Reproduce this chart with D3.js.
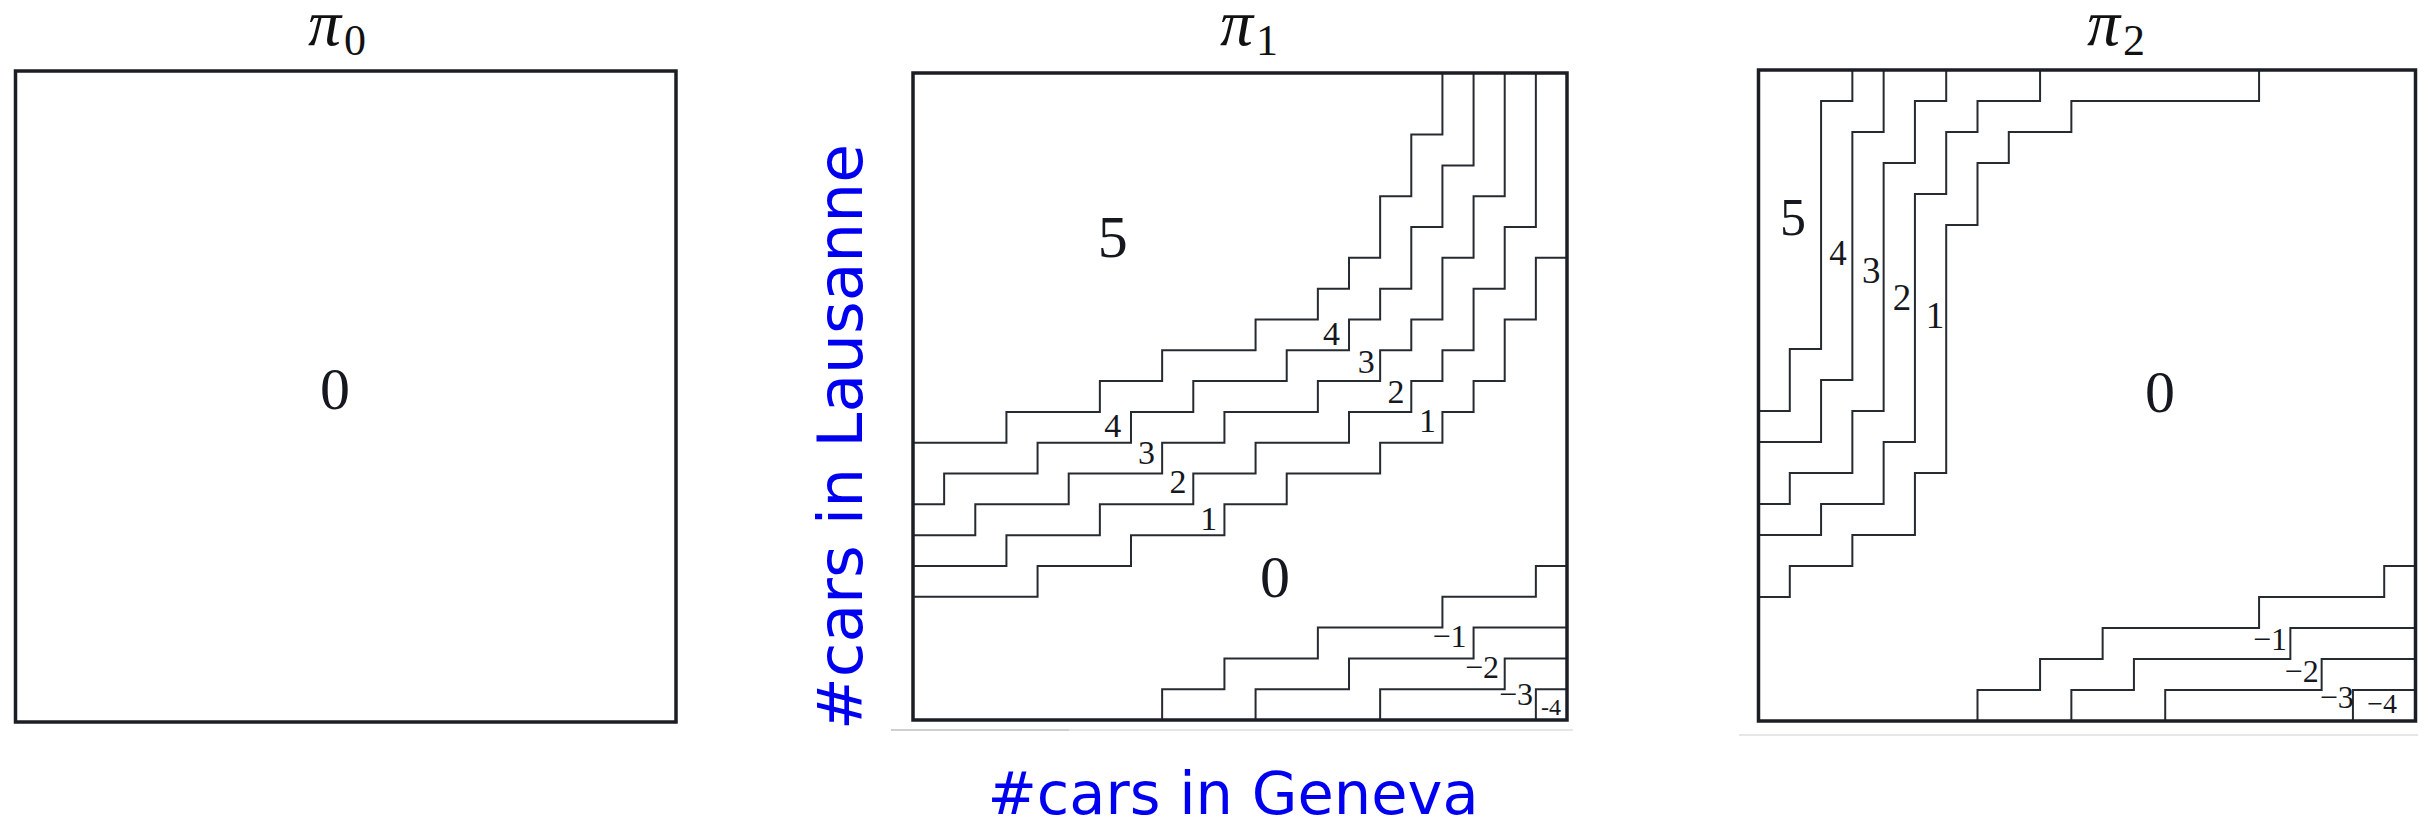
<!DOCTYPE html>
<html>
<head>
<meta charset="utf-8">
<script src="https://cdn.jsdelivr.net/npm/d3@7"></script>
<style>
  html, body { margin: 0; padding: 0; background: #ffffff; }
  svg { display: block; }
</style>
</head>
<body>
<svg id="chart" width="2430" height="820"></svg>
<script>
// Policies for moving cars overnight between two rental sites (0–20 cars each).
// Each threshold row gives, for every Geneva count (column 0..20), the lowest
// Lausanne count at which the policy moves at least k cars (21 = never).
// Negative rows give, per Geneva count, how many Lausanne rows (from 0 upward)
// move at least k cars the other way.
const genevaCounts = d3.range(21);
const maxCars = 20;
const titles = ["0", "1", "2"];

// π1
const pi1AtLeast = [
  [4, 4, 4, 4, 5, 5, 5, 6, 6, 6, 7, 7, 8, 8, 8, 9, 9, 10, 11, 13, 15],    // ≥ 1
  [5, 5, 5, 6, 6, 6, 7, 7, 7, 8, 8, 9, 9, 9, 10, 10, 11, 12, 14, 16, 21], // ≥ 2
  [6, 6, 7, 7, 7, 8, 8, 8, 9, 9, 10, 10, 10, 11, 11, 12, 13, 15, 17, 21, 21], // ≥ 3
  [7, 8, 8, 8, 9, 9, 9, 10, 10, 11, 11, 11, 12, 12, 13, 14, 16, 18, 21, 21, 21], // ≥ 4
  [9, 9, 9, 10, 10, 10, 11, 11, 12, 12, 12, 13, 13, 14, 15, 17, 19, 21, 21, 21, 21] // = 5
];
const pi1AtMost = [
  [0, 0, 0, 0, 0, 0, 0, 0, 1, 1, 2, 2, 2, 3, 3, 3, 3, 4, 4, 4, 5], // ≤ −1
  [0, 0, 0, 0, 0, 0, 0, 0, 0, 0, 0, 1, 1, 1, 2, 2, 2, 2, 3, 3, 3], // ≤ −2
  [0, 0, 0, 0, 0, 0, 0, 0, 0, 0, 0, 0, 0, 0, 0, 1, 1, 1, 1, 2, 2], // ≤ −3
  [0, 0, 0, 0, 0, 0, 0, 0, 0, 0, 0, 0, 0, 0, 0, 0, 0, 0, 0, 0, 1]  // ≤ −4
];

// π2
const pi2AtLeast = [
  [4, 5, 5, 6, 6, 8, 16, 18, 19, 19, 20, 20, 20, 20, 20, 20, 21, 21, 21, 21, 21],
  [6, 6, 7, 7, 9, 17, 19, 20, 20, 21, 21, 21, 21, 21, 21, 21, 21, 21, 21, 21, 21],
  [7, 8, 8, 10, 18, 20, 21, 21, 21, 21, 21, 21, 21, 21, 21, 21, 21, 21, 21, 21, 21],
  [9, 9, 11, 19, 21, 21, 21, 21, 21, 21, 21, 21, 21, 21, 21, 21, 21, 21, 21, 21, 21],
  [10, 12, 20, 21, 21, 21, 21, 21, 21, 21, 21, 21, 21, 21, 21, 21, 21, 21, 21, 21, 21]
];
const pi2AtMost = [
  [0, 0, 0, 0, 0, 0, 0, 1, 1, 2, 2, 3, 3, 3, 3, 3, 4, 4, 4, 4, 5],
  [0, 0, 0, 0, 0, 0, 0, 0, 0, 0, 1, 1, 2, 2, 2, 2, 2, 3, 3, 3, 3],
  [0, 0, 0, 0, 0, 0, 0, 0, 0, 0, 0, 0, 0, 1, 1, 1, 1, 1, 2, 2, 2],
  [0, 0, 0, 0, 0, 0, 0, 0, 0, 0, 0, 0, 0, 0, 0, 0, 0, 0, 0, 1, 1]
];

// Action labels written inside each policy map
const pi0Labels = ["0"];
const pi1Labels = ["5", "0", "4", "3", "2", "1", "4", "3", "2", "1", "−1", "−2", "−3", "-4"];
const pi2Labels = ["5", "4", "3", "2", "1", "0", "−1", "−2", "−3", "−4"];

// ---- layout ----
const svg = d3.select("#chart");
const inkFrame = "#1b1e25";
const inkLine = "#262a31";
const serif = "'Liberation Serif', 'Times New Roman', serif";

const panels = [
  { x0: 15.5, x1: 676, y0: 71, y1: 722, titleX: 308, up: [], down: [],
    labels: pi0Labels,
    place: [[10.16, 10.1, 60]] },
  { x0: 913, x1: 1567, y0: 73, y1: 720, titleX: 1220, up: pi1AtLeast, down: pi1AtMost,
    labels: pi1Labels,
    place: [[6.41, 15.04, 60], [11.62, 3.99, 60],
            [6.41, 9.19, 34], [7.50, 8.31, 34], [8.51, 7.37, 34], [9.50, 6.17, 34],
            [13.44, 12.17, 34], [14.55, 11.26, 34], [15.51, 10.28, 34], [16.52, 9.36, 34],
            [17.23, 2.38, 32], [18.27, 1.36, 32], [19.36, 0.49, 32], [20.49, 0.16, 24]] },
  { x0: 1758.5, x1: 2415.5, y0: 70, y1: 721, titleX: 2087, up: pi2AtLeast, down: pi2AtMost,
    labels: pi2Labels,
    place: [[1.10, 15.68, 52], [2.54, 14.71, 35], [3.60, 14.13, 37], [4.59, 13.26, 37],
            [5.64, 12.68, 37], [12.83, 9.97, 60],
            [16.35, 2.29, 32], [17.36, 1.27, 32], [18.48, 0.42, 32], [19.93, 0.25, 28]] }
];

// Staircase boundary of the region "action ≥ k" (upper-left side)
function upperBoundary(row) {
  const pts = [[0, row[0]]];
  for (const g of genevaCounts) {
    if (row[g] > maxCars) { pts.push([g, maxCars + 1]); break; }
    pts.push([g, row[g]], [g + 1, row[g]]);
  }
  return pts;
}
// Staircase boundary of the region "action ≤ −k" (lower-right side)
function lowerBoundary(row) {
  const start = genevaCounts.find(g => row[g] > 0);
  const pts = [[start, 0]];
  for (const g of genevaCounts.filter(g => g >= start)) {
    pts.push([g, row[g]], [g + 1, row[g]]);
  }
  return pts;
}

panels.forEach((p, i) => {
  const x = d3.scaleLinear().domain([0, maxCars + 1]).range([p.x0, p.x1]);
  const y = d3.scaleLinear().domain([0, maxCars + 1]).range([p.y1, p.y0]);
  const line = d3.line().x(d => x(d[0])).y(d => y(d[1]));
  const g = svg.append("g");

  g.selectAll("path.up").data(p.up).join("path")
    .attr("class", "up")
    .attr("d", r => line(upperBoundary(r)))
    .attr("fill", "none").attr("stroke", inkLine).attr("stroke-width", 2);

  g.selectAll("path.down").data(p.down).join("path")
    .attr("class", "down")
    .attr("d", r => line(lowerBoundary(r)))
    .attr("fill", "none").attr("stroke", inkLine).attr("stroke-width", 2);

  g.append("rect")
    .attr("x", x(0)).attr("y", y(maxCars + 1))
    .attr("width", x(maxCars + 1) - x(0)).attr("height", y(0) - y(maxCars + 1))
    .attr("fill", "none").attr("stroke", inkFrame).attr("stroke-width", 3.5);

  g.selectAll("text.act").data(p.labels).join("text")
    .attr("class", "act")
    .attr("x", (d, j) => x(p.place[j][0]))
    .attr("y", (d, j) => y(p.place[j][1]))
    .attr("text-anchor", "middle")
    .attr("font-family", serif)
    .attr("font-size", (d, j) => p.place[j][2])
    .attr("fill", "#15181e")
    .text(d => d);

  // title π_i
  const t = svg.append("text")
    .attr("x", p.titleX).attr("y", 45)
    .attr("font-family", serif).attr("fill", "#111");
  t.append("tspan").attr("font-style", "italic").attr("font-size", 66).text("π");
  t.append("tspan").attr("font-size", 44).attr("dx", 3).attr("dy", 10).text(titles[i]);
});

// faint rules beneath the two later maps
svg.append("line").attr("x1", 891).attr("x2", 1573).attr("y1", 730).attr("y2", 730)
  .attr("stroke", "#e6e6e6").attr("stroke-width", 2);
svg.append("line").attr("x1", 891).attr("x2", 1069).attr("y1", 730).attr("y2", 730)
  .attr("stroke", "#cfcfcf").attr("stroke-width", 2);
svg.append("line").attr("x1", 1739).attr("x2", 2418).attr("y1", 735).attr("y2", 735)
  .attr("stroke", "#e6e6e6").attr("stroke-width", 2);

// axis titles
const axisBlue = "#0000f0";
svg.append("text")
  .attr("x", 1233).attr("y", 814)
  .attr("text-anchor", "middle")
  .attr("font-family", "'DejaVu Sans', sans-serif")
  .attr("font-size", 59).attr("fill", axisBlue)
  .text("#cars in Geneva");
svg.append("text")
  .attr("transform", "translate(862,437) rotate(-90)")
  .attr("text-anchor", "middle")
  .attr("font-family", "'DejaVu Sans', sans-serif")
  .attr("font-size", 63).attr("fill", axisBlue)
  .text("#cars in Lausanne");
</script>
</body>
</html>
